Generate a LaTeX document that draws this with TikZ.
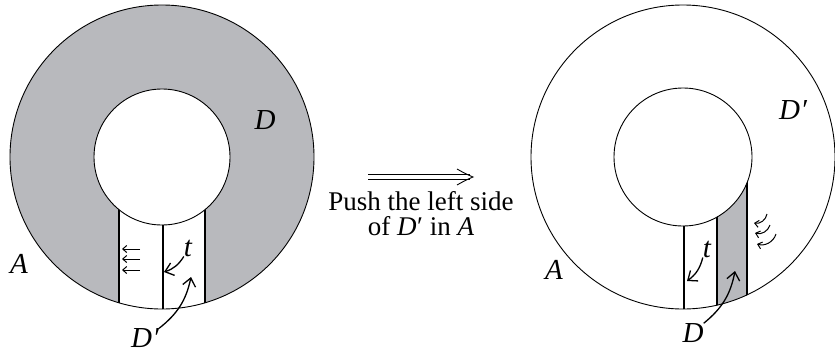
\documentclass[tikz,border=0pt]{standalone}
\usepackage{fontspec}
\setmainfont{Liberation Serif}
\usepackage{tikz}
\usetikzlibrary{arrows.meta,positioning}
\definecolor{diskgray}{RGB}{184,185,189}
\newcommand{\Dp}{\textit{D}\kern0.5pt′}

\begin{document}
\begin{tikzpicture}[
    x=1pt,y=-1pt,
    rim/.style={line width=0.9pt},
    strip/.style={line width=1.3pt},
    label/.style={font=\fontsize{29}{29}\selectfont\itshape,inner sep=0pt},
    pointer/.style={-{Straight Barb[length=8pt,width=13pt,line width=1.3pt]},line width=1.3pt},
    push/.style={-{Straight Barb[length=4pt,width=7pt]},line width=1pt}
]
\useasboundingbox (0,0) rectangle (835,354);
\coordinate (cL) at (162,157);
\coordinate (cR) at (683,157);
% left annulus
\begin{scope}[even odd rule]
\clip (cL) circle[radius=152] (cL) circle[radius=68];
\fill[diskgray] (cL) circle[radius=152];
\fill[white] (119,157) rectangle (205,320);
\draw[strip] (119,157) -- (119,320);
\draw[strip] (163,157) -- (163,320);
\draw[strip] (205,157) -- (205,320);
\end{scope}
\draw[rim] (cL) circle[radius=152];
\draw[rim] (cL) circle[radius=68];
\foreach \y in {249,259,270}
    \draw[push] (140,\y) -- (122,\y);
\node[label] (DL) at (265,120) {D};
\node[label] (AL) at (19,264) {A};
\node[label] (tL) at (188,248) {t};
\node[label] (DpL) at (145,338) {\Dp};
\coordinate (tLtip) at (164,272);
\coordinate (DpLtip) at (191,277);
\draw[pointer] (tL.south west) to[bend left=20] (tLtip);
\draw[pointer] (DpL.north east) to[bend right=20] (DpLtip);
% middle
\coordinate (pushstart) at (368,177);
\coordinate (pushend) at (473,177);
\draw[double,double distance=3.5pt,line width=0.8pt,shorten >=3pt]
    (pushstart) -- (pushend);
\draw[line width=0.9pt] (457,169) .. controls (466,174) .. (pushend)
    .. controls (466,180) .. (457,185);
\node[font=\fontsize{27}{25}\selectfont,align=center,inner sep=0pt]
    (caption) at (421,214) {Push the left side\\of \Dp{} in \textit{A}};
% right annulus
\begin{scope}[even odd rule]
\clip (cR) circle[radius=152] (cR) circle[radius=69];
\fill[diskgray] (717,157) rectangle (747,320);
\draw[strip] (684,157) -- (684,320);
\draw[strip] (717,157) -- (717,320);
\draw[strip] (747,157) -- (747,320);
\end{scope}
\draw[rim] (cR) circle[radius=152];
\draw[rim] (cR) circle[radius=69];
\draw[push] (767,214) to[bend left=45] (754,223);
\draw[push] (770,225) to[bend left=45] (755,233);
\draw[push] (776,234) to[bend left=45] (757,244);
\node[label] (DpR) at (793,110) {\Dp};
\node[label] (AR) at (554,270) {A};
\node[label] (tR) at (707,249) {t};
\node[label] (DR) at (693,333) {D};
\coordinate (tRtip) at (687,281);
\coordinate (DRtip) at (735,271);
\draw[pointer] (tR.south west) to[bend left=20] (tRtip);
\draw[pointer] (DR.north east) to[bend right=20] (DRtip);
\end{tikzpicture}
\end{document}
